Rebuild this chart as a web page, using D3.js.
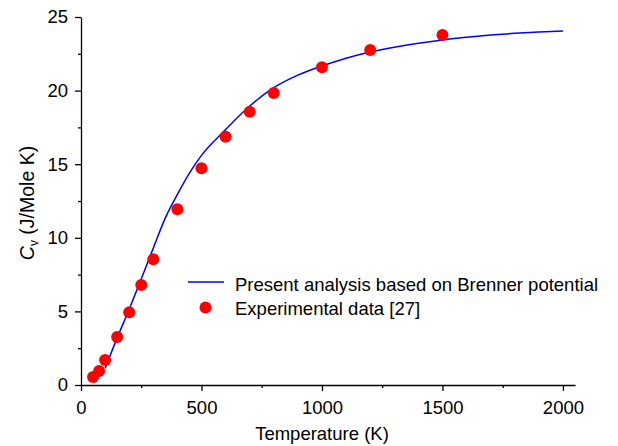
<!DOCTYPE html>
<html>
<head>
<meta charset="utf-8">
<script src="https://cdn.jsdelivr.net/npm/d3@7"></script>
<style>
  body { margin: 0; background: #fff; }
  text { font-family: "Liberation Sans", Arial, sans-serif; fill: #000; }
</style>
</head>
<body>
<svg width="618" height="446"></svg>
<script>
// model curve (Brenner potential)
var modelT = [100, 150, 200, 250, 300, 350, 400, 450, 500, 600, 700, 800, 900, 1000, 1100, 1200, 1300, 1400, 1500, 1600, 1700, 1800, 1900, 2000];
var modelCv = [1.13, 3.2, 5.15, 7.2, 9.3, 11.35, 12.95, 14.4, 15.6, 17.35, 18.95, 20.2, 21.05, 21.67, 22.2, 22.62, 22.95, 23.22, 23.44, 23.62, 23.77, 23.89, 23.98, 24.05];

// experimental data [27]
var expT = [50, 75, 100, 150, 200, 250, 300, 400, 500, 600, 700, 800, 1000, 1200, 1500];
var expCv = [0.55, 0.95, 1.7, 3.26, 4.94, 6.79, 8.54, 11.94, 14.72, 16.87, 18.57, 19.84, 21.58, 22.76, 23.78];

var xTicks = [0, 500, 1000, 1500, 2000];
var yTicks = [0, 5, 10, 15, 20, 25];

var legendLabels = ["Present analysis based on Brenner potential", "Experimental data [27]"];

var fs = "18.5px";

var svg = d3.select("svg"),
    margin = {top: 17, right: 43, bottom: 61, left: 81},
    width = +svg.attr("width") - margin.left - margin.right,
    height = +svg.attr("height") - margin.top - margin.bottom;

var g = svg.append("g")
    .attr("transform", "translate(" + margin.left + "," + margin.top + ")");

var x = d3.scaleLinear().domain([0, 2050]).range([0, width]);
var y = d3.scaleLinear().domain([0, 25]).range([height, 0]);

// minor ticks
g.append("g")
    .attr("transform", "translate(0," + height + ")")
    .call(d3.axisBottom(x).tickValues(d3.range(250, 2050, 500)).tickSize(3).tickFormat(""))
    .call(function(a) { a.select(".domain").remove(); a.selectAll("line").attr("stroke-width", 1.3); });
g.append("g")
    .call(d3.axisLeft(y).tickValues(d3.range(2.5, 25, 5)).tickSize(3).tickFormat(""))
    .call(function(a) { a.select(".domain").remove(); a.selectAll("line").attr("stroke-width", 1.3); });

var xAxis = g.append("g")
    .attr("transform", "translate(0," + height + ")")
    .call(d3.axisBottom(x).tickValues(xTicks).tickFormat(d3.format("d")).tickSize(6).tickSizeOuter(0).tickPadding(10));
var yAxis = g.append("g")
    .call(d3.axisLeft(y).tickValues(yTicks).tickFormat(d3.format("d")).tickSize(6).tickSizeOuter(0).tickPadding(7));

[xAxis, yAxis].forEach(function(a) {
  a.selectAll("text").style("font-size", fs).attr("font-family", null);
  a.selectAll("line").attr("stroke-width", 1.3);
  a.select(".domain").attr("stroke-width", 1.3);
});

var line = d3.line()
    .x(function(d, i) { return x(modelT[i]); })
    .y(function(d) { return y(d); })
    .curve(d3.curveMonotoneX);

g.append("path")
    .datum(modelCv)
    .attr("fill", "none")
    .attr("stroke", "#0000ff")
    .attr("stroke-width", 1.5)
    .attr("d", line);

g.selectAll("circle.exp")
    .data(expCv)
  .enter().append("circle")
    .attr("class", "exp")
    .attr("cx", function(d, i) { return x(expT[i]); })
    .attr("cy", function(d) { return y(d); })
    .attr("r", 6)
    .attr("fill", "#ff0000");

// legend
var legend = svg.append("g").attr("transform", "translate(188,282)");
legend.append("line")
    .attr("x1", 0).attr("x2", 36).attr("y1", 0).attr("y2", 0)
    .attr("stroke", "#0000ff").attr("stroke-width", 1.5);
legend.append("circle")
    .attr("cx", 17.5).attr("cy", 25.5).attr("r", 6).attr("fill", "#ff0000");
legend.selectAll("text.lab")
    .data(legendLabels)
  .enter().append("text")
    .attr("class", "lab")
    .attr("x", 47)
    .attr("y", function(d, i) { return 8.5 + i * 24; })
    .style("font-size", fs)
    .text(function(d) { return d; });

// axis titles
svg.append("text")
    .attr("x", margin.left + x(1000))
    .attr("y", 440)
    .attr("text-anchor", "middle")
    .style("font-size", fs)
    .text("Temperature (K)");

var yl = svg.append("text")
    .attr("transform", "translate(34," + (margin.top + height / 2 + 2) + ") rotate(-90)")
    .attr("text-anchor", "middle")
    .style("font-size", "19.5px");
yl.append("tspan").style("font-style", "italic").text("C");
yl.append("tspan").attr("dy", 4).style("font-size", "12px").text("v");
yl.append("tspan").attr("dy", -4).text(" (J/Mole K)");
</script>
</body>
</html>
